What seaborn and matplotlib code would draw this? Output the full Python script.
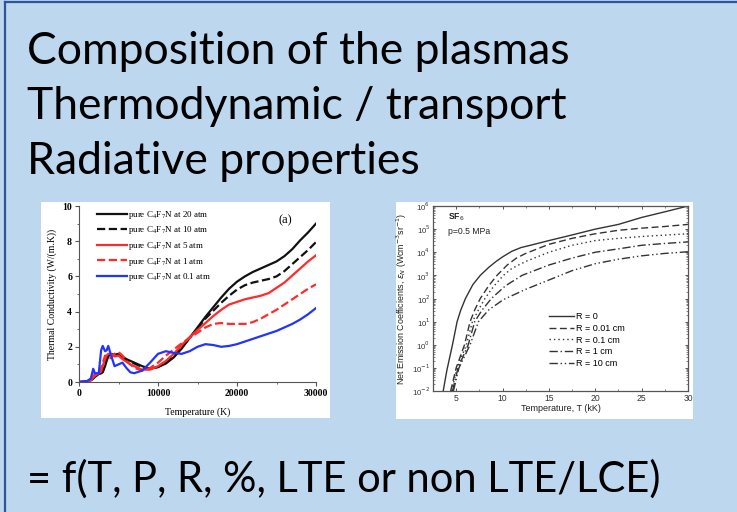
import matplotlib
matplotlib.use("Agg")
import matplotlib.pyplot as plt
from matplotlib.patches import Rectangle
from matplotlib.lines import Line2D
import seaborn as sns

# ---------------- data: left chart (thermal conductivity) ----------------
temp_k = [0, 1000, 1500, 1800, 2000, 2500, 2800, 3000, 3300, 3500, 3700, 4000, 4500,
          5000, 5500, 6000, 6500, 7000, 8000, 9000, 10000, 11000, 12000, 13000, 14000,
          15000, 16000, 17000, 18000, 19000, 20000, 21000, 22000, 23000, 24000, 25000,
          26000, 27000, 28000, 29000, 30000]
k_20atm = [0, 0.02, 0.1, 0.2, 0.3, 0.45, 0.5, 0.55, 0.9, 1.2, 1.45, 1.6, 1.55, 1.6, 1.45,
           1.3, 1.2, 1.1, 0.9, 0.75, 0.85, 1.05, 1.4, 1.9, 2.5, 3.1, 3.7, 4.25, 4.8, 5.3,
           5.7, 6.0, 6.25, 6.45, 6.65, 6.85, 7.15, 7.55, 8.05, 8.5, 9.0]
k_10atm = [0, 0.02, 0.1, 0.2, 0.3, 0.45, 0.5, 0.6, 1.0, 1.3, 1.5, 1.55, 1.5, 1.55, 1.4,
           1.25, 1.15, 1.05, 0.85, 0.75, 0.85, 1.1, 1.45, 1.95, 2.5, 3.05, 3.6, 4.05, 4.5,
           4.9, 5.25, 5.5, 5.65, 5.75, 5.85, 6.0, 6.3, 6.7, 7.1, 7.5, 7.95]
k_5atm = [0, 0.02, 0.1, 0.25, 0.35, 0.5, 0.6, 0.9, 1.3, 1.5, 1.6, 1.6, 1.45, 1.5, 1.3,
          1.15, 1.0, 0.9, 0.7, 0.7, 0.9, 1.2, 1.6, 2.1, 2.55, 2.95, 3.35, 3.75, 4.1, 4.4,
          4.55, 4.7, 4.8, 4.9, 5.05, 5.35, 5.65, 6.05, 6.45, 6.85, 7.2]
k_1atm = [0, 0.03, 0.15, 0.35, 0.45, 0.5, 0.8, 1.1, 1.5, 1.45, 1.35, 1.35, 1.6, 1.7, 1.5,
          1.2, 1.0, 0.8, 0.65, 0.8, 1.1, 1.5, 1.85, 2.2, 2.5, 2.8, 3.1, 3.3, 3.35, 3.3,
          3.3, 3.3, 3.4, 3.6, 3.85, 4.1, 4.4, 4.7, 5.0, 5.3, 5.55]
k_01atm = [0, 0.05, 0.2, 0.75, 0.5, 0.5, 1.8, 2.05, 1.75, 1.8, 2.05, 1.6, 0.9, 1.0, 1.1,
           0.8, 0.55, 0.5, 0.65, 1.1, 1.6, 1.75, 1.65, 1.6, 1.75, 2.0, 2.15, 2.1, 2.0,
           2.05, 2.15, 2.3, 2.45, 2.6, 2.75, 2.9, 3.1, 3.3, 3.55, 3.85, 4.2]
left_labels = ["pure C$_4$F$_7$N at 20 atm", "pure C$_4$F$_7$N at 10 atm",
               "pure C$_4$F$_7$N at 5 atm", "pure C$_4$F$_7$N at 1 atm",
               "pure C$_4$F$_7$N at 0.1 atm"]

# ---------------- data: right chart (net emission coefficients) ----------------
t_r0 = [3.6, 4.0, 4.6, 5.1, 5.5, 6.0, 6.8, 7.6, 8.5, 9.3, 10.0, 11.0, 12.0, 13.0, 15.0,
        17.5, 20.0, 22.5, 25.0, 27.5, 30.0]
e_r0 = [1e-2, 8e-2, 1e0, 1e1, 3.2e1, 1e2, 4e2, 1e3, 2.2e3, 4e3, 6.3e3, 1.1e4, 1.6e4,
        2e4, 3.2e4, 5.6e4, 1e5, 1.6e5, 3.2e5, 5.6e5, 1e6]
t_r001 = [4.4, 5.0, 5.9, 6.5, 7.0, 7.6, 8.5, 9.4, 10.5, 11.5, 12.5, 15.0, 17.5, 20.0,
          22.5, 25.0, 27.5, 30.0]
e_r001 = [1e-2, 1e-1, 1e0, 1e1, 3.2e1, 1e2, 3.5e2, 1e3, 2.8e3, 5.6e3, 8.9e3, 2.2e4,
          4e4, 6.3e4, 8.9e4, 1.1e5, 1.3e5, 1.6e5]
t_r01 = [4.5, 5.1, 6.1, 6.75, 7.4, 8.1, 9.0, 10.1, 11.0, 12.5, 15.0, 17.5, 20.0, 22.5,
         25.0, 27.5, 30.0]
e_r01 = [1e-2, 1e-1, 1e0, 1e1, 3.2e1, 1e2, 3.2e2, 1e3, 2e3, 4e3, 1e4, 2e4, 3.2e4, 4e4,
         4.8e4, 5.5e4, 6.3e4]
t_r1 = [4.6, 5.2, 6.3, 7.0, 7.8, 8.8, 10.3, 12.1, 15.0, 17.5, 20.0, 22.5, 25.0, 27.5, 30.0]
e_r1 = [1e-2, 1e-1, 1e0, 1e1, 3.2e1, 1e2, 3.5e2, 1e3, 2.8e3, 5.6e3, 1e4, 1.4e4, 2e4,
        2.4e4, 2.8e4]
t_r10 = [4.7, 5.3, 6.5, 7.4, 8.5, 10.1, 12.5, 15.0, 17.5, 20.0, 22.5, 25.0, 27.5, 30.0]
e_r10 = [1e-2, 1e-1, 1e0, 1e1, 3.2e1, 9e1, 2.5e2, 6.3e2, 1.6e3, 3.2e3, 5e3, 7e3, 8.9e3,
         1.05e4]
right_labels = ["R = 0", "R = 0.01 cm", "R = 0.1 cm", "R = 1 cm", "R = 10 cm"]

slide_lines = ["Composition of the plasmas", "Thermodynamic / transport",
               "Radiative properties"]
slide_formula = "= f(T, P, R, %, LTE or non LTE/LCE)"

# ---------------- figure ----------------
W, H = 737, 512
fig = plt.figure(figsize=(W / 100, H / 100), dpi=100)
fig.patch.set_facecolor("#BDD7EE")

def fx(px):
    return px / W

def fy(py):
    return 1 - py / H

border = "#2F5597"
fig.add_artist(Line2D([fx(5), fx(5)], [0, fy(1.5)], color=border, lw=1.6))
fig.add_artist(Line2D([fx(5), 1], [fy(1.5), fy(1.5)], color=border, lw=1.6))

# white image panels
fig.add_artist(Rectangle((fx(41), fy(418)), fx(330) - fx(41), fy(202) - fy(418),
                         facecolor="white", edgecolor="none", zorder=0))
fig.add_artist(Rectangle((fx(396), fy(419)), fx(693) - fx(396), fy(202) - fy(419),
                         facecolor="white", edgecolor="none", zorder=0))

# slide text
slide_font = "Lato"
for i, line in enumerate(slide_lines):
    fig.text(fx(27), fy(64 + 55 * i), line, fontsize=32, family=slide_font,
             ha="left", va="baseline", color="black")
fig.text(fx(27), fy(492), slide_formula, fontsize=30, family=slide_font,
         ha="left", va="baseline", color="black")

# ---------------- left chart ----------------
serif = "Liberation Serif"
axl = fig.add_axes([fx(79), fy(382), fx(316) - fx(79), fy(206) - fy(382)])
axl.set_facecolor("white")
blk, red, blue = "#111111", "#FF2A2A", "#2233FF"
series_l = [(k_20atm, blk, "-"), (k_10atm, blk, "--"), (k_5atm, red, "-"),
            (k_1atm, red, "--"), (k_01atm, blue, "-")]
for (vals, col, ls), lab in zip(series_l, left_labels):
    sns.lineplot(x=temp_k, y=vals, ax=axl, color=col, linestyle=ls, lw=1.6,
                 label=lab, legend=False)
axl.set_xlim(0, 30000)
axl.set_ylim(0, 10)
axl.set_xticks([0, 10000, 20000, 30000])
axl.set_xticks([5000, 15000, 25000], minor=True)
axl.set_yticks([0, 2, 4, 6, 8, 10])
axl.set_yticks([1, 3, 5, 7, 9], minor=True)
for s in ["top", "right"]:
    axl.spines[s].set_visible(False)
for s in ["left", "bottom"]:
    axl.spines[s].set_color("#555555")
    axl.spines[s].set_linewidth(0.8)
axl.tick_params(which="major", direction="out", length=3, width=0.8, color="#555555",
                labelsize=7, pad=2)
axl.tick_params(which="minor", direction="out", length=1.5, width=0.6, color="#555555")
for t in axl.get_xticklabels() + axl.get_yticklabels():
    t.set_family(serif)
    t.set_fontweight("bold")
axl.set_xlabel("Temperature (K)", family=serif, fontsize=7, labelpad=7)
axl.set_ylabel("Thermal Conductivity (W/(m.K))", family=serif, fontsize=7, labelpad=4)
h, l = axl.get_legend_handles_labels()
axl.legend(h, l, loc="upper left", bbox_to_anchor=(0.05, 1.02), frameon=False,
           prop=dict(family=serif, size=6.5, math_fontfamily="stix"),
           handlelength=3.3, handletextpad=0.1, labelspacing=0.4, borderpad=0.2)
axl.text(0.87, 0.92, "(a)", transform=axl.transAxes, family=serif, fontsize=9,
         ha="center", va="center")

# ---------------- right chart ----------------
sans = "Liberation Sans"
axr = fig.add_axes([fx(433), fy(391), fx(688) - fx(433), fy(206) - fy(391)])
axr.set_facecolor("white")
gray = "#333333"
dash_styles = ["-", (0, (5, 2.5)), (0, (1, 2.2)), (0, (6, 2, 1, 2)),
               (0, (6, 2, 1, 2, 1, 2))]
series_r = [(t_r0, e_r0), (t_r001, e_r001), (t_r01, e_r01), (t_r1, e_r1), (t_r10, e_r10)]
for (tt, ee), ls, lab in zip(series_r, dash_styles, right_labels):
    sns.lineplot(x=tt, y=ee, ax=axr, color=gray, linestyle=ls, lw=1.0, label=lab,
                 legend=False)
axr.set_yscale("log")
axr.set_xlim(2.5, 30)
axr.set_ylim(1e-2, 1e6)
axr.set_xticks([5, 10, 15, 20, 25, 30])
axr.set_xticks([2.5, 7.5, 12.5, 17.5, 22.5, 27.5], minor=True)
axr.set_yticks([10.0 ** k for k in range(-2, 7)])
axr.set_yticklabels(["10$^{%d}$" % k for k in range(-2, 7)])
for s in axr.spines.values():
    s.set_color("#555555")
    s.set_linewidth(0.9)
axr.tick_params(which="major", direction="in", length=2.5, width=0.7, color="#555555",
                labelsize=6.2, top=True, right=True, pad=2)
axr.tick_params(which="minor", direction="in", length=1.3, width=0.5, color="#555555",
                top=True, right=True)
axr.tick_params(axis="y", labelsize=5.6)
for t in axr.get_xticklabels() + axr.get_yticklabels():
    t.set_family(sans)
    t.set_color("#333333")
axr.set_xlabel("Temperature, T (kK)", family=sans, fontsize=6.5, labelpad=1,
               color="#222222")
axr.set_ylabel("Net Emission Coefficients, $\\varepsilon_N$ (Wcm$^{-3}$sr$^{-1}$)",
               family=sans, fontsize=6.4, labelpad=2, color="#222222")
axr.text(0.06, 0.94, "SF$_6$", transform=axr.transAxes, family=sans, fontsize=6.2,
         fontweight="bold", ha="left", va="center", color="#222222")
axr.text(0.06, 0.86, "p=0.5 MPa", transform=axr.transAxes, family=sans, fontsize=6.2,
         ha="left", va="center", color="#222222")
h, l = axr.get_legend_handles_labels()
axr.legend(h, l, loc="upper left", bbox_to_anchor=(0.43, 0.46), frameon=False,
           prop=dict(family=sans, size=6.5), handlelength=2.8, handletextpad=0.2,
           labelspacing=0.3, borderpad=0.2)

fig.savefig("out.png", dpi=100, facecolor=fig.get_facecolor())
